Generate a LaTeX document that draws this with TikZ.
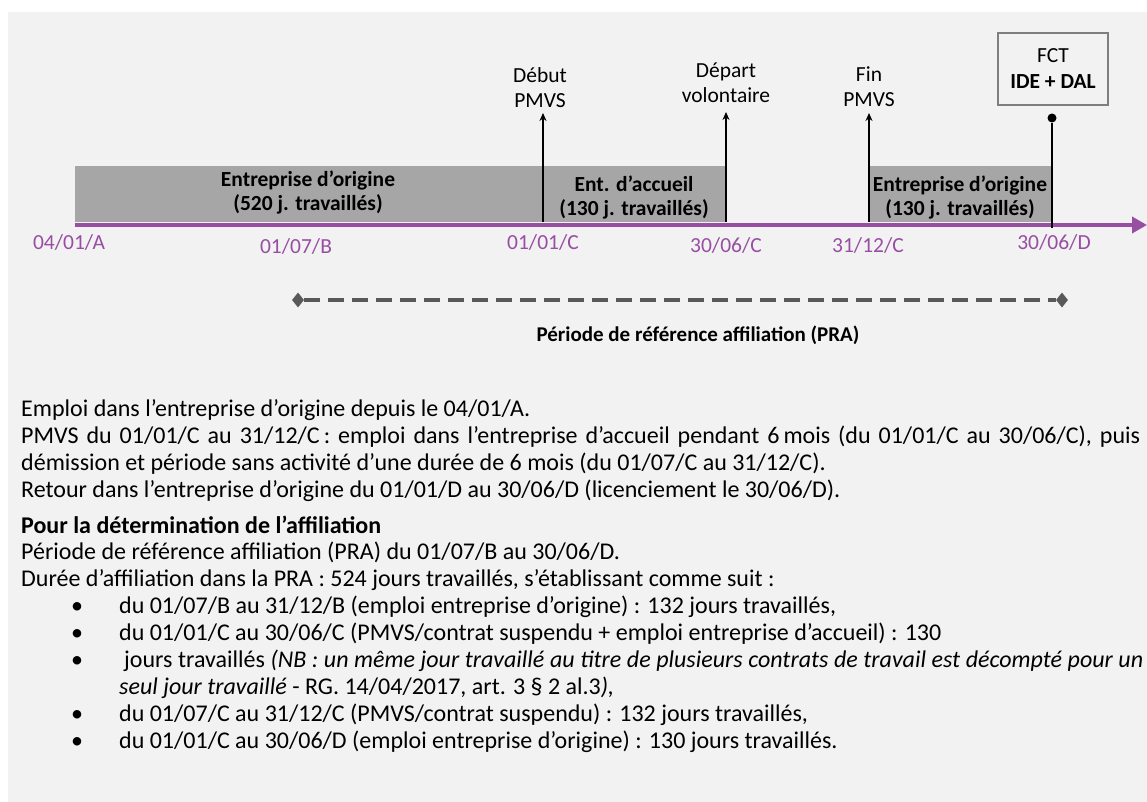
\documentclass[tikz,border=0pt]{standalone}
\usepackage{fontspec}
\setmainfont{Carlito}
\usetikzlibrary{arrows.meta,shapes.geometric}
\definecolor{bgc}{RGB}{242,242,242}
\definecolor{barc}{RGB}{166,166,166}
\definecolor{purp}{RGB}{152,78,163}
\definecolor{dgrey}{RGB}{89,89,89}
\definecolor{boxc}{RGB}{127,127,127}
\tikzset{
  lab/.style={font=\fontsize{21.5}{25}\selectfont, align=center, inner sep=0pt},
  datelab/.style={font=\fontsize{21.5}{24}\selectfont, text=purp, inner sep=0pt},
  bartext/.style={font=\bfseries\fontsize{21.5}{24}\selectfont, align=center, inner sep=0pt},
  body/.style={font=\fontsize{24}{27}\selectfont, anchor=base west, inner sep=0pt},
  bul/.style={font=\fontsize{24}{27}\selectfont, anchor=base, inner sep=0pt},
  bar/.style={fill=barc, inner sep=0pt, anchor=north west},
  varrow/.style={line width=2.2pt, -{Stealth[length=8pt,width=7pt]}},
  diam/.style={diamond, fill=dgrey, inner sep=0pt, minimum width=12pt, minimum height=15pt},
}
\begin{document}
\begin{tikzpicture}[x=1pt,y=-1pt]
\fill[white] (0,0) rectangle (1147,802);
\fill[bgc] (8,12) rectangle (1147,802);
\useasboundingbox (0,0) rectangle (1147,802);

% bars
\node[bar, minimum width=468pt, minimum height=56pt] (bar1) at (75,166) {};
\node[bar, minimum width=182pt, minimum height=56pt] (bar2) at (543,166) {};
\node[bar, minimum width=183pt, minimum height=56pt] (bar3) at (868,166) {};
\node[bartext] (t1) at (308,192) {Entreprise d’origine\\(520 j. travaillés)};
\node[bartext] (t2) at (634,197) {Ent. d’accueil\\(130 j. travaillés)};
\node[bartext] (t3) at (960,197) {Entreprise d’origine\\(130 j. travaillés)};

% axis
\coordinate (ax0) at (75,225);
\coordinate (ax1) at (1147,225);
\draw[purp, line width=4pt, -{Triangle[length=15pt,width=16pt]}] (ax0) -- (ax1);

% vertical arrows
\coordinate (d0) at (543,222);
\coordinate (d1) at (543,113);
\node[lab] (ld) at (540,88) {Début\\PMVS};
\draw[varrow] (d0) -- (d1);
\coordinate (v0) at (726,222);
\coordinate (v1) at (726,112);
\node[lab] (lv) at (726,83) {Départ\\volontaire};
\draw[varrow] (v0) -- (v1);
\coordinate (f0) at (869,222);
\coordinate (f1) at (869,113);
\node[lab] (lf) at (869,87) {Fin\\PMVS};
\draw[varrow] (f0) -- (f1);

% FCT
\node[draw=boxc, line width=1.5pt, fill=bgc, minimum width=110pt, minimum height=72pt, align=center, inner sep=0pt, font=\fontsize{21.5}{26}\selectfont] (fct) at (1053,69) {FCT\\\textbf{IDE + DAL}};
\node[circle, fill=black, inner sep=0pt, minimum size=9pt] (dot) at (1052,118) {};
\coordinate (dotb) at (1052,228);
\draw[line width=2.2pt] (dot) -- (dotb);

% dates
\node[datelab] (da) at (69,242) {04/01/A};
\node[datelab] (db) at (296,246) {01/07/B};
\node[datelab] (dc) at (543,242) {01/01/C};
\node[datelab] (dd) at (726,245) {30/06/C};
\node[datelab] (de) at (868,245) {31/12/C};
\node[datelab] (df) at (1054,242) {30/06/D};

% PRA
\node[diam] (p1) at (298,300) {};
\node[diam] (p2) at (1062,300) {};
\draw[dgrey, line width=4pt, dash pattern=on 16pt off 8pt] (p1) -- (p2);
\node[bartext, font=\bfseries\fontsize{21}{24}\selectfont] (pra) at (698,335) {Période de référence affiliation (PRA)};

% body text
\node[body] (l1) at (21,416) {Emploi dans l’entreprise d’origine depuis le 04/01/A.};
\node[body] (l2) at (21,443) {\makebox[1119pt][s]{PMVS du 01/01/C au 31/12/C\,: emploi dans l’entreprise d’accueil pendant 6\,mois (du 01/01/C au 30/06/C), puis}};
\node[body] (l3) at (21,470) {démission et période sans activité d’une durée de 6 mois (du 01/07/C au 31/12/C).};
\node[body] (l4) at (21,497) {Retour dans l’entreprise d’origine du 01/01/D au 30/06/D (licenciement le 30/06/D).};
\node[body] (l5) at (21,533) {\textbf{Pour la détermination de l’affiliation}};
\node[body] (l6) at (21,559) {Période de référence affiliation (PRA) du 01/07/B au 30/06/D.};
\node[body] (l7) at (21,586) {Durée d’affiliation dans la PRA : 524 jours travaillés, s’établissant comme suit :};

\node[bul] (bu1) at (77,613) {•};
\node[body] (b1) at (119,613) {du 01/07/B au 31/12/B (emploi entreprise d’origine) : 132 jours travaillés,};
\node[bul] (bu2) at (77,640) {•};
\node[body] (b2) at (119,640) {du 01/01/C au 30/06/C (PMVS/contrat suspendu + emploi entreprise d’accueil) : 130};
\node[bul] (bu3) at (77,667) {•};
\node[body] (b3) at (124,667) {\makebox[1019pt][s]{jours travaillés \textit{(NB : un même jour travaillé au titre de plusieurs contrats de travail est décompté pour un}}};
\node[body] (b3b) at (119,694) {\textit{seul jour travaillé} - RG. 14/04/2017, art. 3 § 2 al.3\textit{),}};
\node[bul] (bu4) at (77,721) {•};
\node[body] (b4) at (119,721) {du 01/07/C au 31/12/C (PMVS/contrat suspendu) : 132 jours travaillés,};
\node[bul] (bu5) at (77,748) {•};
\node[body] (b5) at (119,748) {du 01/01/C au 30/06/D (emploi entreprise d’origine) : 130 jours travaillés.};
\end{tikzpicture}
\end{document}
